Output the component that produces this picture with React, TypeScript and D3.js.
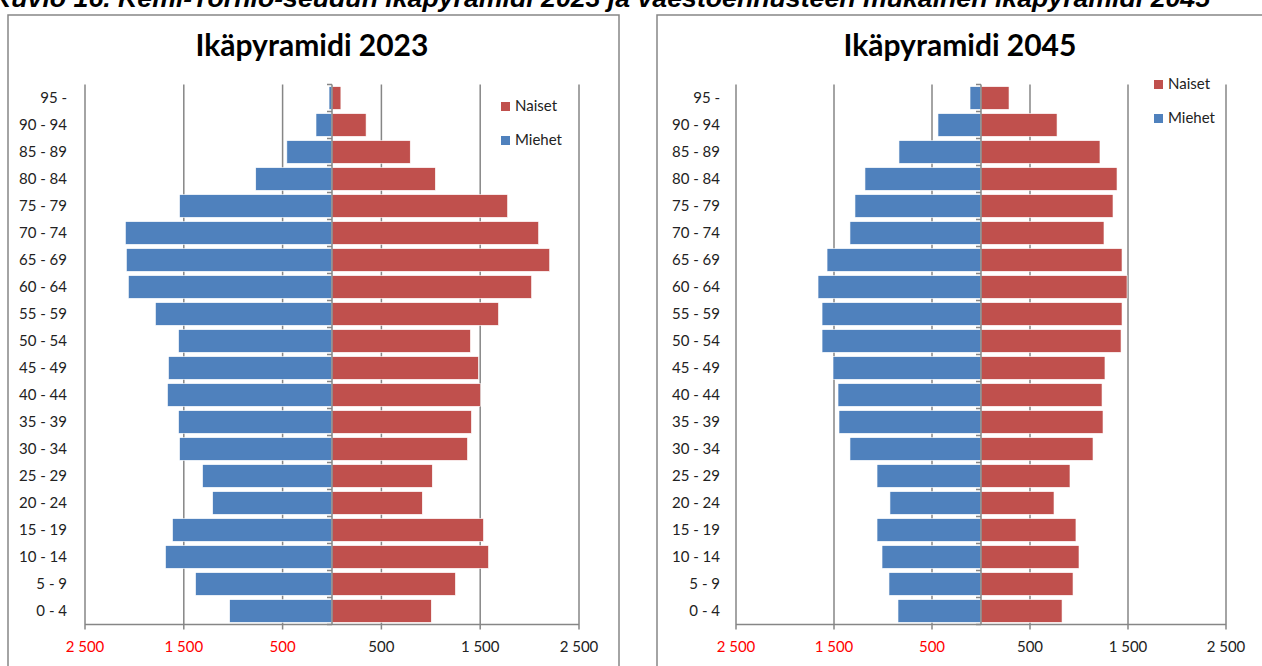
import * as d3 from "d3";

const ageGroups = [
  "95 -", "90 - 94", "85 - 89", "80 - 84", "75 - 79", "70 - 74", "65 - 69",
  "60 - 64", "55 - 59", "50 - 54", "45 - 49", "40 - 44", "35 - 39", "30 - 34",
  "25 - 29", "20 - 24", "15 - 19", "10 - 14", "5 - 9", "0 - 4",
];

// 2023, same order as ageGroups
const men2023 = [30, 162, 457, 772, 1543, 2091, 2081, 2061, 1787, 1553, 1655, 1665, 1553, 1543, 1310, 1208, 1614, 1685, 1381, 1036];
const women2023 = [90, 345, 792, 1046, 1777, 2091, 2203, 2020, 1685, 1401, 1482, 1503, 1411, 1371, 1015, 914, 1533, 1584, 1249, 1005];

// 2045 projection
const men2045 = [112, 439, 837, 1184, 1286, 1337, 1571, 1663, 1622, 1622, 1510, 1459, 1449, 1337, 1061, 929, 1061, 1010, 939, 847];
const women2045 = [286, 776, 1214, 1388, 1347, 1255, 1439, 1490, 1439, 1429, 1265, 1235, 1245, 1143, 908, 745, 969, 1000, 939, 827];

const tickValues = [-2500, -1500, -500, 500, 1500, 2500];

const BLUE = "#4F81BD";
const RED = "#C0504D";
const GRID = "#868686";
const FONT = "Lato, 'Open Sans', sans-serif";

const fmt = d3.formatLocale({ decimal: ",", thousands: "\u00a0", grouping: [3], currency: ["", ""] }).format(",d");

interface PyramidProps {
  title: string;
  men: number[];
  women: number[];
  frameX: number;
  frameW: number;
  xRange: [number, number];
  labelX: number;
  titleX: number;
  legend: { x: number; y: number };
}

function Pyramid({ title, men, women, frameX, frameW, xRange, labelX, titleX, legend }: PyramidProps) {
  const top = 84.5;
  const bottom = 624.5;
  const x = d3.scaleLinear().domain([-2500, 2500]).range(xRange);
  const y = d3.scaleBand().domain(ageGroups).range([top, bottom]).paddingInner(0.16).paddingOuter(0.08);
  const step = y.step();
  const x0 = x(0);

  return (
    <g>
      <rect x={frameX} y={15} width={frameW} height={700} fill="white" stroke={GRID} strokeWidth={1.5} />
      <text x={titleX} y={56} textAnchor="middle" fontFamily={FONT} fontWeight="bold" fontSize={30} fill="#000">
        {title}
      </text>
      {tickValues.map((t) => (
        <line key={t} x1={x(t)} x2={x(t)} y1={top} y2={bottom + 5} stroke={GRID} strokeWidth={1.5} />
      ))}
      <line x1={xRange[0]} x2={xRange[1]} y1={bottom} y2={bottom} stroke={GRID} strokeWidth={1.5} />
      {ageGroups.map((g, i) => {
        const by = y(g) ?? 0;
        return (
          <g key={g}>
            <rect x={x(-men[i])} y={by} width={x0 - x(-men[i])} height={y.bandwidth()} fill={BLUE} stroke="#fff" strokeWidth={0.6} />
            <rect x={x0} y={by} width={x(women[i]) - x0} height={y.bandwidth()} fill={RED} stroke="#fff" strokeWidth={0.6} />
            <text x={labelX} y={by + y.bandwidth() / 2 + 5} textAnchor="end" fontFamily={FONT} fontSize={15} fill="#222">
              {g}
            </text>
          </g>
        );
      })}
      <line x1={x0} x2={x0} y1={top} y2={bottom} stroke={GRID} strokeWidth={1.5} />
      {d3.range(ageGroups.length + 1).map((i) => (
        <line key={i} x1={x0 - 5} x2={x0} y1={top + i * step} y2={top + i * step} stroke={GRID} strokeWidth={1.5} />
      ))}
      {tickValues.map((t) => (
        <text key={t} x={x(t)} y={652} textAnchor="middle" fontFamily={FONT} fontSize={15} fill={t < 0 ? "#FF0000" : "#222"}>
          {fmt(Math.abs(t))}
        </text>
      ))}
      <rect x={legend.x} y={legend.y - 4} width={9} height={9} fill={RED} />
      <text x={legend.x + 14} y={legend.y + 5} fontFamily={FONT} fontSize={15} fill="#222">Naiset</text>
      <rect x={legend.x} y={legend.y + 30} width={9} height={9} fill={BLUE} />
      <text x={legend.x + 14} y={legend.y + 39} fontFamily={FONT} fontSize={15} fill="#222">Miehet</text>
    </g>
  );
}

export default function App() {
  return (
    <svg width={1262} height={666} style={{ position: "absolute", left: 0, top: 0, background: "#fff" }}>
      <rect width={1262} height={666} fill="#fff" />
      <text
        x={-8}
        y={7}
        textLength={1218}
        lengthAdjust="spacingAndGlyphs"
        fontFamily="'Liberation Sans', Arial, sans-serif"
        fontWeight="bold"
        fontStyle="italic"
        fontSize={25}
        fill="#000"
      >
        Kuvio 16. Kemi-Tornio-seudun ikäpyramidi 2023 ja väestöennusteen mukainen ikäpyramidi 2045
      </text>
      <Pyramid
        title="Ikäpyramidi 2023"
        men={men2023}
        women={women2023}
        frameX={8}
        frameW={611}
        xRange={[85, 579]}
        labelX={67}
        titleX={312}
        legend={{ x: 501, y: 106 }}
      />
      <Pyramid
        title="Ikäpyramidi 2045"
        men={men2045}
        women={women2045}
        frameX={657}
        frameW={700}
        xRange={[736, 1226]}
        labelX={720}
        titleX={960}
        legend={{ x: 1154, y: 84 }}
      />
    </svg>
  );
}
